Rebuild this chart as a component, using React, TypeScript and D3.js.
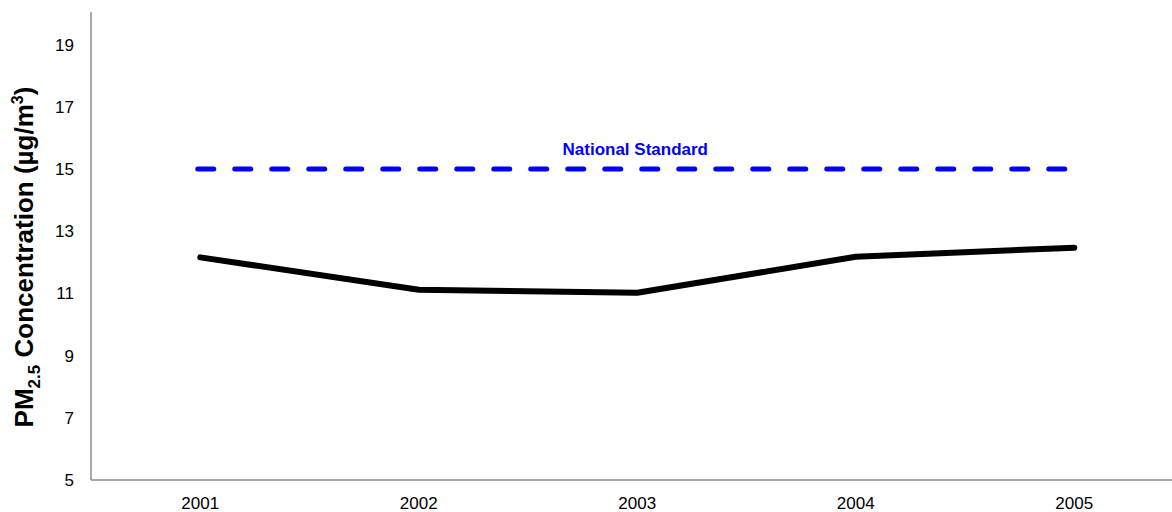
import React from "react";
import * as d3 from "d3";

const years = ["2001", "2002", "2003", "2004", "2005"];
const pm25 = [12.16, 11.12, 11.02, 12.18, 12.47];
const nationalStandard = [15, 15, 15, 15, 15];
const yTicks = [5, 7, 9, 11, 13, 15, 17, 19];

const W = 1172;
const H = 512;
const left = 91;
const right = 1183.5;
const top = 12;
const bottom = 480;

export default function App() {
  const x = d3.scaleBand<string>().domain(years).range([left, right]);
  const y = d3.scaleLinear().domain([5, 20.05]).range([bottom, top]);
  const cx = (d: string) => (x(d) as number) + x.bandwidth() / 2;

  const line = d3
    .line<number>()
    .x((_, i) => cx(years[i]))
    .y((v) => y(v));

  const font = "Arial, 'Liberation Sans', Helvetica, sans-serif";
  const midX = (cx(years[0]) + cx(years[years.length - 1])) / 2;

  return (
    <svg
      width={W}
      height={H}
      style={{ position: "absolute", left: 0, top: 0, background: "#fff" }}
      fontFamily={font}
    >
      <line x1={left} x2={left} y1={top} y2={bottom} stroke="#8c8c8c" strokeWidth={1.5} />
      <line x1={left} x2={W} y1={bottom} y2={bottom} stroke="#8c8c8c" strokeWidth={1.5} />
      {yTicks.map((t) => (
        <text key={t} x={74} y={y(t)} dy="0.35em" textAnchor="end" fontSize={17} fill="#000">
          {t}
        </text>
      ))}
      {years.map((yr) => (
        <text key={yr} x={cx(yr)} y={509} textAnchor="middle" fontSize={17} fill="#000">
          {yr}
        </text>
      ))}
      <path
        d={line(nationalStandard) || ""}
        fill="none"
        stroke="#0000ff"
        strokeWidth={5}
        strokeDasharray="16 21"
        strokeLinecap="round"
        transform="translate(-2.5,0)"
      />
      <text x={midX - 2} y={155} textAnchor="middle" fontSize={17} fontWeight="bold" fill="#0000ff">
        National Standard
      </text>
      <path
        d={line(pm25) || ""}
        fill="none"
        stroke="#000"
        strokeWidth={6}
        strokeLinecap="round"
        strokeLinejoin="round"
      />
      <text
        transform={`translate(33,257) rotate(-90)`}
        textAnchor="middle"
        fontSize={26}
        fontWeight="bold"
        fill="#000"
      >
        PM
        <tspan fontSize={17} dy={7}>2.5</tspan>
        <tspan dy={-7}> Concentration (µg/m</tspan>
        <tspan fontSize={16} dy={-10}>3</tspan>
        <tspan dy={10}>)</tspan>
      </text>
    </svg>
  );
}
